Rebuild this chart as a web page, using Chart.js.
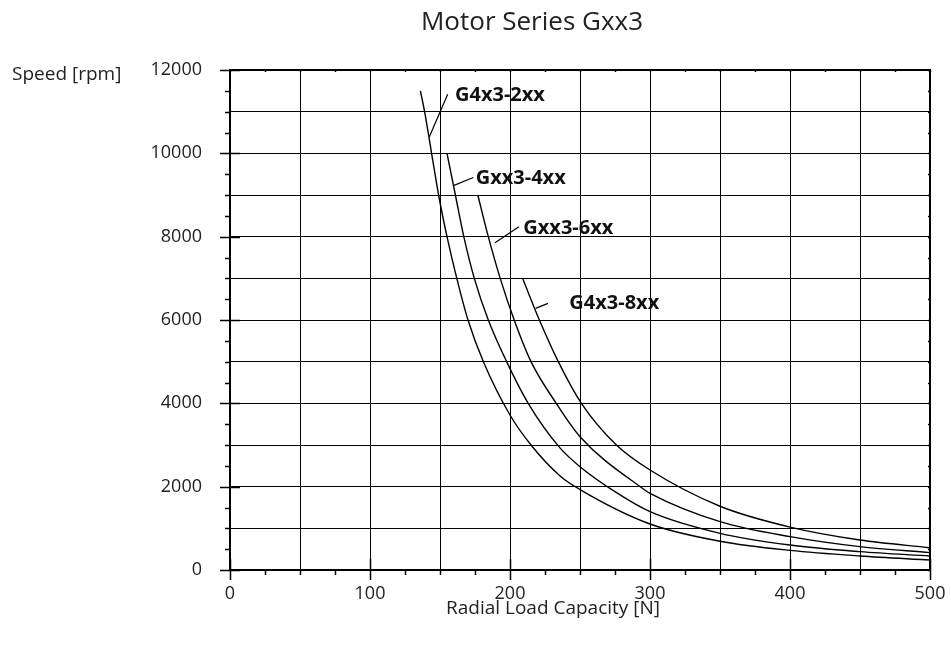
<!DOCTYPE html>
<html>
<head>
<meta charset="utf-8">
<script src="https://cdn.jsdelivr.net/npm/chart.js@4"></script>
<style>
  html, body { margin: 0; padding: 0; background: #fff; }
  #wrap { width: 951px; height: 646px; }
</style>
</head>
<body>
<div id="wrap"><canvas id="chart" width="951" height="646"></canvas></div>
<script>
// readings from the picture: radial load [N] vs speed [rpm]
var load2xx = [136, 139, 144, 149, 155, 162, 170, 181, 200, 215, 236, 250, 300, 350, 400, 450, 500];
var rpm2xx  = [11500, 11000, 10000, 9000, 8000, 7000, 6000, 5000, 3720, 3000, 2250, 1930, 1104, 690, 470, 336, 240];

var load4xx = [155, 161, 167, 174.5, 184.5, 197.6, 213, 235.7, 250, 275, 300, 350, 400, 450, 500];
var rpm4xx  = [10000, 9000, 8000, 7000, 6000, 5000, 4000, 2930, 2480, 1880, 1400, 880, 600, 440, 336];

var load6xx = [177, 184.5, 193, 203, 215, 233, 250, 295, 300, 350, 400, 450, 500];
var rpm6xx  = [9000, 8000, 7000, 6000, 5000, 4000, 3200, 1950, 1840, 1160, 800, 560, 416];

var load8xx = [209, 221, 234.5, 251, 276, 300, 350, 400, 450, 500];
var rpm8xx  = [7000, 6000, 5000, 4000, 3000, 2400, 1530, 1030, 720, 535];

var seriesNames = ['G4x3-2xx', 'Gxx3-4xx', 'Gxx3-6xx', 'G4x3-8xx'];
// label anchor (text left) and leader line ends, in data units
var labelX = [160.7, 175.5, 209.5, 242.4];
var labelY = [11400, 9400, 8200, 6400];
var leaderFromX = [142.4, 160, 189.3, 218.3];
var leaderFromY = [10400, 9230, 7855, 6280];
var leaderToX = [155.5, 173.8, 206.4, 227.1];
var leaderToY = [11420, 9420, 8240, 6400];

var xMin = 0, xMax = 500, xGrid = 50, xMinor = 25, xMajor = 100;
var yMin = 0, yMax = 12000, yGrid = 1000, yMinor = 500, yMajor = 2000;

function pts(xs, ys) {
    return xs.map(function (x, i) { return { x: x, y: ys[i] }; });
}

var curves = [pts(load2xx, rpm2xx), pts(load4xx, rpm4xx), pts(load6xx, rpm6xx), pts(load8xx, rpm8xx)];

var decorPlugin = {
    id: 'decor',
    afterDraw: function (chart) {
        var ctx = chart.ctx;
        var xs = chart.scales.x, ys = chart.scales.y;
        var a = chart.chartArea;
        ctx.save();
        ctx.strokeStyle = '#000';

        // frame
        ctx.lineWidth = 2;
        ctx.strokeRect(a.left, a.top, a.right - a.left, a.bottom - a.top);

        // tick marks
        ctx.lineWidth = 1.5;
        var v, p;
        for (v = xMin; v <= xMax; v += xMinor) {
            p = Math.round(xs.getPixelForValue(v)) + 0.5;
            ctx.beginPath();
            if (v % xMajor === 0) {
                ctx.moveTo(p, a.bottom - 11); ctx.lineTo(p, a.bottom + 10);
            } else {
                ctx.moveTo(p, a.bottom); ctx.lineTo(p, a.bottom + 5);
            }
            ctx.moveTo(p, a.top); ctx.lineTo(p, a.top + 2);
            ctx.stroke();
        }
        for (v = yMin; v <= yMax; v += yMinor) {
            p = Math.round(ys.getPixelForValue(v)) + 0.5;
            ctx.beginPath();
            if (v % yMajor === 0) {
                ctx.moveTo(a.left - 10, p); ctx.lineTo(a.left + 10, p);
            } else {
                ctx.moveTo(a.left - 5, p); ctx.lineTo(a.left, p);
            }
            ctx.moveTo(a.right - 2, p); ctx.lineTo(a.right, p);
            ctx.stroke();
        }

        // series labels with leader lines
        ctx.lineWidth = 1.2;
        ctx.fillStyle = '#111';
        ctx.font = 'bold 20px "Noto Sans", "DejaVu Sans", sans-serif';
        ctx.textBaseline = 'middle';
        ctx.textAlign = 'left';
        seriesNames.forEach(function (name, i) {
            ctx.beginPath();
            ctx.moveTo(xs.getPixelForValue(leaderFromX[i]), ys.getPixelForValue(leaderFromY[i]));
            ctx.lineTo(xs.getPixelForValue(leaderToX[i]), ys.getPixelForValue(leaderToY[i]));
            ctx.stroke();
            ctx.fillText(name, xs.getPixelForValue(labelX[i]), ys.getPixelForValue(labelY[i]));
        });

        // titles
        ctx.fillStyle = '#222';
        ctx.font = '26px "Open Sans", sans-serif';
        ctx.textAlign = 'center';
        ctx.fillText('Motor Series Gxx3', 532, 23);

        ctx.font = '19px "Open Sans", sans-serif';
        ctx.textAlign = 'left';
        ctx.fillText('Speed [rpm]', 12, ys.getPixelForValue(yMax) + 5);

        ctx.textAlign = 'center';
        ctx.fillText('Radial Load Capacity [N]', 553, 609);
        ctx.restore();
    }
};

new Chart(document.getElementById('chart'), {
    type: 'line',
    data: {
        datasets: curves.map(function (c, i) {
            return {
                label: seriesNames[i],
                data: c,
                borderColor: '#000',
                borderWidth: 1.4,
                pointRadius: 0,
                fill: false,
                cubicInterpolationMode: 'monotone'
            };
        })
    },
    options: {
        responsive: false,
        animation: false,
        events: [],
        layout: { padding: { left: 0, right: 21, top: 70, bottom: 0 } },
        plugins: {
            legend: { display: false },
            tooltip: { enabled: false },
            title: { display: false }
        },
        scales: {
            x: {
                type: 'linear',
                min: xMin,
                max: xMax,
                afterFit: function (scale) {
                    scale.height = 76;
                    scale.paddingLeft = 0;
                    scale.paddingRight = 0;
                },
                ticks: {
                    stepSize: xGrid,
                    color: '#222',
                    padding: 13,
                    font: { family: 'Open Sans', size: 18 },
                    callback: function (value) { return value % xMajor === 0 ? value : ''; }
                },
                grid: { color: '#000', lineWidth: 1, drawTicks: false },
                border: { display: false }
            },
            y: {
                type: 'linear',
                min: yMin,
                max: yMax,
                afterFit: function (scale) { scale.width = 230; },
                ticks: {
                    stepSize: yGrid,
                    color: '#222',
                    padding: 28,
                    font: { family: 'Open Sans', size: 18 },
                    callback: function (value) { return value % yMajor === 0 ? value : ''; }
                },
                grid: { color: '#000', lineWidth: 1, drawTicks: false },
                border: { display: false }
            }
        }
    },
    plugins: [decorPlugin]
});
</script>
</body>
</html>
